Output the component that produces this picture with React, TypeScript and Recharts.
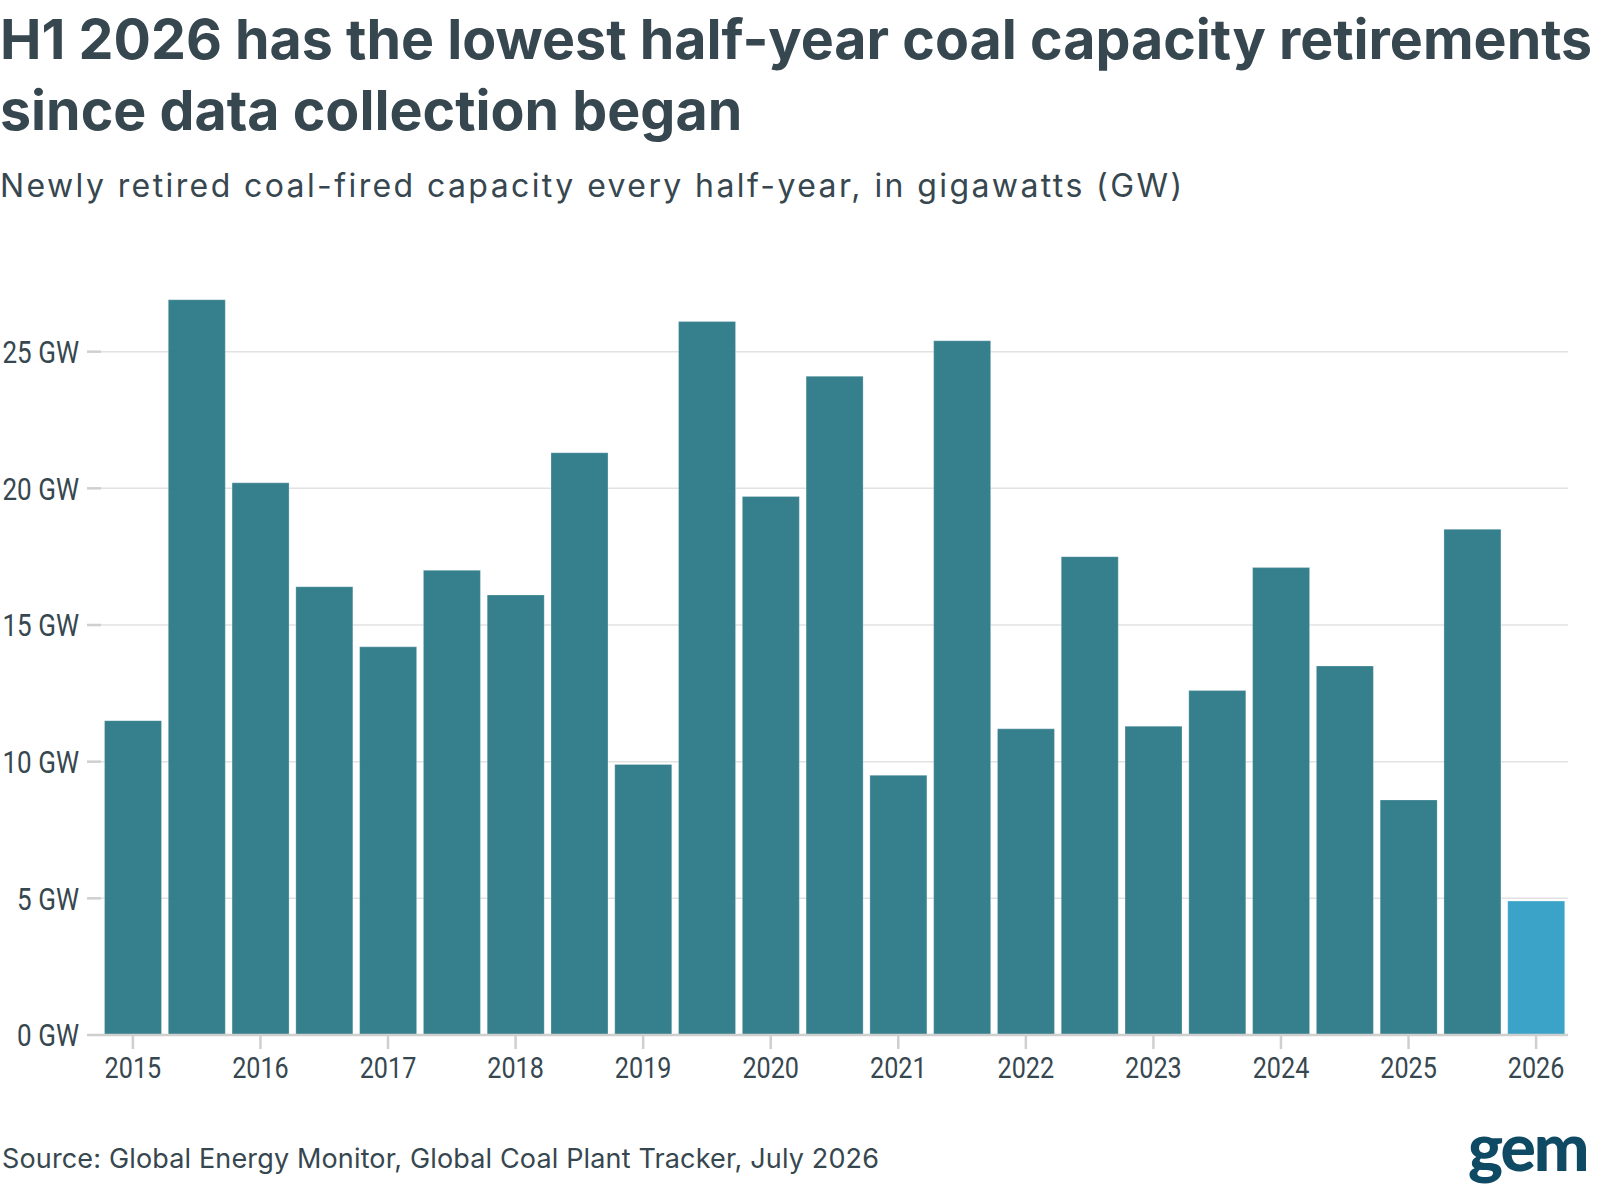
import { BarChart, Bar, XAxis, YAxis, CartesianGrid, Cell } from 'recharts'

// Half-year periods, H1 2015 through H1 2026
const periods = [
  'H1 2015', 'H2 2015', 'H1 2016', 'H2 2016', 'H1 2017', 'H2 2017',
  'H1 2018', 'H2 2018', 'H1 2019', 'H2 2019', 'H1 2020', 'H2 2020',
  'H1 2021', 'H2 2021', 'H1 2022', 'H2 2022', 'H1 2023', 'H2 2023',
  'H1 2024', 'H2 2024', 'H1 2025', 'H2 2025', 'H1 2026',
]

// Newly retired coal-fired capacity, GW
const retiredGW = [
  11.5, 26.9, 20.2, 16.4, 14.2, 17.0,
  16.1, 21.3, 9.9, 26.1, 19.7, 24.1,
  9.5, 25.4, 11.2, 17.5, 11.3, 12.6,
  17.1, 13.5, 8.6, 18.5, 4.9,
]

const yTicks = [0, 5, 10, 15, 20, 25]
const latestPeriod = 'H1 2026'

const TEXT = '#37474f'
const TICK = '#cfcfcf'
const BAR = '#2f7b89'
const BAR_LATEST = '#36a0c6'

const data = periods.map((period, i) => ({ period, gw: retiredGW[i] }))

const YTick = (props: any) => {
  const { x, y, payload } = props
  return (
    <g>
      <line x1={x - 14} x2={x} y1={y} y2={y} stroke={TICK} strokeWidth={2.5} />
      <text
        transform={`translate(${x - 22},${y}) scale(0.84,1)`}
        textAnchor="end"
        dy="0.36em"
        fontFamily="Roboto, sans-serif"
        fontSize={31}
        fill={TEXT}
      >
        {`${payload.value} GW`}
      </text>
    </g>
  )
}

const XTick = (props: any) => {
  const { x, y, payload } = props
  const label = String(payload.value)
  if (!label.startsWith('H1')) return <g />
  return (
    <g>
      <line x1={x} x2={x} y1={y + 1} y2={y + 14} stroke={TICK} strokeWidth={2.5} />
      <text
        transform={`translate(${x},${y + 43}) scale(0.84,1)`}
        textAnchor="middle"
        fontFamily="Roboto, sans-serif"
        fontSize={30}
        fill={TEXT}
      >
        {label.slice(3)}
      </text>
    </g>
  )
}

export default function App() {
  return (
    <div style={{ position: 'absolute', left: 0, top: 0, width: 1600, height: 1200, background: '#fff', overflow: 'hidden' }}>
      <BarChart
        width={1600}
        height={1200}
        data={data}
        margin={{ top: 297, right: 32, left: 11, bottom: 105 }}
        barCategoryGap="5.5%"
        style={{ position: 'absolute', left: 0, top: 0 }}
      >
        <CartesianGrid vertical={false} horizontalValues={yTicks} stroke="#e2e2e2" strokeWidth={1.5} />
        <XAxis
          dataKey="period"
          height={60}
          interval={0}
          tickSize={0}
          tickMargin={0}
          tickLine={false}
          axisLine={{ stroke: TICK, strokeWidth: 2.5 }}
          tick={<XTick />}
        />
        <YAxis
          width={90}
          domain={[0, 27]}
          ticks={yTicks}
          tickSize={0}
          tickMargin={0}
          tickLine={false}
          axisLine={false}
          tick={<YTick />}
        />
        <Bar dataKey="gw" isAnimationActive={false} stroke="#ffffff" strokeOpacity={0.25} strokeWidth={1}>
          {data.map((d) => (
            <Cell key={d.period} fill={d.period === latestPeriod ? BAR_LATEST : BAR} fillOpacity={0.97} />
          ))}
        </Bar>
      </BarChart>

      <div
        style={{
          position: 'absolute', left: 0, top: 3, width: 1600, whiteSpace: 'nowrap',
          fontFamily: 'Inter, sans-serif', fontWeight: 700, fontSize: 55.5,
          lineHeight: '71px', color: TEXT, letterSpacing: 0,
        }}
      >
        H1 2026 has the lowest half-year coal capacity retirements
        <br />
        since data collection began
      </div>
      <div
        style={{
          position: 'absolute', left: 0, top: 166, whiteSpace: 'nowrap',
          fontFamily: 'Inter, sans-serif', fontSize: 32, color: TEXT, letterSpacing: 2.4,
        }}
      >
        Newly retired coal-fired capacity every half-year, in gigawatts (GW)
      </div>
      <div
        style={{
          position: 'absolute', left: 2, top: 1142, whiteSpace: 'nowrap',
          fontFamily: 'Inter, sans-serif', fontSize: 27, color: TEXT, letterSpacing: 0.15,
        }}
      >
        Source: Global Energy Monitor, Global Coal Plant Tracker, July 2026
      </div>
      <div
        style={{
          position: 'absolute', left: 1468, top: 1110, whiteSpace: 'nowrap',
          fontFamily: 'Lato, sans-serif', fontWeight: 900, fontSize: 66,
          letterSpacing: -2, color: '#0e4a63', lineHeight: '72px',
        }}
      >
        gem
      </div>
    </div>
  )
}
